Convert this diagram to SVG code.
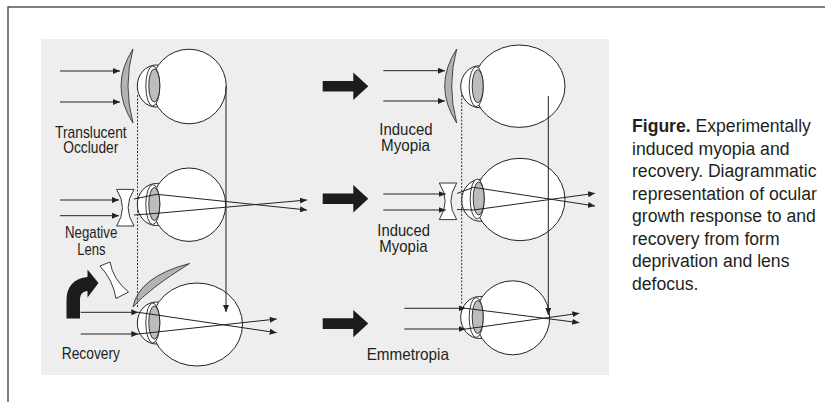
<svg xmlns="http://www.w3.org/2000/svg" xmlns:xlink="http://www.w3.org/1999/xlink" width="825" height="402" viewBox="0 0 825 402">
<style>
.frame{fill:none;stroke:#4a4a4a;stroke-width:1.4}
.panel{fill:#eeeeee}
.ray{stroke:#222;stroke-width:1;fill:none;marker-end:url(#ah)}
.dash{stroke:#333;stroke-width:1;stroke-dasharray:2 1.5;fill:none}
.globe{fill:#fff;stroke:#222;stroke-width:1}
.cornea{fill:#fff;stroke:#222;stroke-width:1}
.lensw{fill:#fff;stroke:#222;stroke-width:0.9}
.lensg{fill:#bdbdbd;stroke:#222;stroke-width:0.9}
.occ{fill:#b3b3b3;stroke:#333;stroke-width:0.9}
.neg{fill:#fff;stroke:#222;stroke-width:0.9}
.block{fill:#1c1c1c}
.lbl{font-family:"Liberation Sans",Arial,sans-serif;font-size:17px;fill:#231f20}
.cap{font-family:"Liberation Sans",Arial,sans-serif;font-size:19px;fill:#231f20}
</style>
<defs>
<marker id="ah" markerUnits="userSpaceOnUse" markerWidth="7" markerHeight="6" refX="7" refY="3" orient="auto">
<path d="M0,0 L7,3 L0,6 z" fill="#222"/>
</marker>
<!-- anterior eye parts, origin at the front of the cornea on the optical axis -->
<ellipse id="cornea" cx="19" cy="0" rx="19" ry="21" class="cornea"/>
<g id="lens">
<ellipse cx="15.5" cy="0" rx="7" ry="20" class="lensw"/>
<ellipse cx="17" cy="-0.5" rx="5.5" ry="16.5" class="lensg"/>
</g>
<!-- translucent occluder, origin at its centre -->
<path id="occluder" d="M0,-37 Q-24,0 0,37 Q-10,0 0,-37 Z" class="occ"/>
<!-- negative (concave) lens, origin at its centre -->
<path id="neglens" d="M-8.7,-18.3 L8.7,-18.3 Q-3,0 8.7,18.3 L-8.7,18.3 Q3,0 -8.7,-18.3 Z" class="neg"/>
<!-- block arrow, origin at its tip -->
<path id="block" d="M-45.6,-5.3 L-15,-5.3 L-15,-13.7 L0,0 L-15,13.7 L-15,5.3 L-45.6,5.3 Z" class="block"/>
</defs>

<rect class="frame" x="8" y="7" width="840" height="420"/>
<rect class="panel" x="41" y="39" width="568" height="336"/>

<!-- form deprivation: occluded eye -->
<g id="eye-occluder">
<use xlink:href="#occluder" x="133" y="86"/>
<use xlink:href="#cornea" x="137.3" y="86"/>
<circle class="globe" cx="189" cy="86.5" r="37.3"/>
<use xlink:href="#lens" x="137.3" y="86"/>
</g>

<!-- lens defocus: eye behind a negative lens -->
<g id="eye-neglens">
<use xlink:href="#neglens" x="125.3" y="207.7"/>
<use xlink:href="#cornea" x="137.3" y="204.5"/>
<circle class="globe" cx="189" cy="204.7" r="36.7"/>
<use xlink:href="#lens" x="137.3" y="204.5"/>
</g>

<!-- recovery: occluder and lens removed, elongated eye -->
<g id="eye-recovery">
<path class="block" d="M66.5,318.5 L66.5,300 C66.5,287 74,278 87.5,277 L87.5,269.5 L98.5,283 L87.5,297.5 L87.5,291 C82,291.5 80,295 80,300 L80,318.5 Z"/>
<path class="neg" d="M100,266 L110,262 Q113,279.5 128.5,292 L116,298.5 Q113,280 100,266 Z"/>
<path class="occ" d="M133,307 Q138.7,276.8 189.5,263.5 Q148.7,288.8 133,307 Z"/>
<use xlink:href="#cornea" x="137.3" y="323"/>
<ellipse class="globe" cx="197" cy="324.5" rx="45.5" ry="41.5"/>
<use xlink:href="#lens" x="137.3" y="323"/>
</g>

<!-- induced myopia after occlusion -->
<g id="eye-myopia-occluder">
<use xlink:href="#block" x="368.3" y="86.3"/>
<use xlink:href="#occluder" x="456.7" y="86"/>
<use xlink:href="#cornea" x="460.7" y="86.7"/>
<ellipse class="globe" cx="519.2" cy="86.2" rx="45.8" ry="41.2"/>
<use xlink:href="#lens" x="460.7" y="86.7"/>
</g>

<!-- induced myopia after negative lens -->
<g id="eye-myopia-lens">
<use xlink:href="#block" x="368.3" y="198.8"/>
<use xlink:href="#neglens" x="448" y="201.3"/>
<use xlink:href="#cornea" x="461.7" y="200.3"/>
<ellipse class="globe" cx="520" cy="199.5" rx="45" ry="41.2"/>
<use xlink:href="#lens" x="461.7" y="199"/>
</g>

<!-- emmetropia after recovery -->
<g id="eye-emmetropia">
<use xlink:href="#block" x="368.3" y="323.6"/>
<use xlink:href="#cornea" x="460.7" y="317.5"/>
<circle class="globe" cx="512.7" cy="317.8" r="37"/>
<use xlink:href="#lens" x="460.7" y="317.5"/>
</g>

<g id="connectors">
<!-- reference lines for cornea and retina position -->
<line class="dash" x1="137.5" y1="95" x2="137.5" y2="307"/>
<line class="dash" x1="461.7" y1="95" x2="461.7" y2="304"/>
<line class="ray" x1="226" y1="86" x2="226" y2="312"/>
<line class="ray" x1="548.3" y1="96" x2="548.3" y2="315"/>
<!-- incident light -->
<line class="ray" x1="60" y1="71" x2="120" y2="71"/>
<line class="ray" x1="60" y1="102" x2="120" y2="102"/>
<line class="ray" x1="383.3" y1="70.7" x2="445" y2="70.7"/>
<line class="ray" x1="383.3" y1="101" x2="445" y2="101"/>
<line class="ray" x1="60" y1="200" x2="119" y2="200"/>
<line class="ray" x1="60" y1="215.7" x2="119" y2="215.7"/>
<polyline class="ray" points="134,199 157,194.3 307,210"/>
<polyline class="ray" points="134,215 157,213.3 307,200"/>
<line class="ray" x1="383.3" y1="194" x2="445.7" y2="194"/>
<line class="ray" x1="383.3" y1="210" x2="445.7" y2="210"/>
<polyline class="ray" points="457,193.5 473.3,187.3 595,206"/>
<polyline class="ray" points="457,209.5 473.3,210 595,193.3"/>
<line class="ray" x1="80.7" y1="312.3" x2="138.3" y2="312.3"/>
<line class="ray" x1="80.7" y1="334" x2="138.3" y2="334"/>
<line class="ray" x1="138.3" y1="312.3" x2="276.7" y2="332.7"/>
<line class="ray" x1="138.3" y1="334" x2="276.7" y2="319"/>
<line class="ray" x1="404.3" y1="308.3" x2="465.7" y2="308.3"/>
<line class="ray" x1="404.3" y1="329" x2="465.7" y2="329"/>
<line class="ray" x1="465.7" y1="308.3" x2="579.3" y2="322.7"/>
<line class="ray" x1="465.7" y1="329" x2="579.3" y2="313.3"/>
</g>

<g id="labels" class="lbl">
<text x="55" y="138.3" textLength="71.7" lengthAdjust="spacingAndGlyphs">Translucent</text>
<text x="63.3" y="152.7" textLength="55" lengthAdjust="spacingAndGlyphs">Occluder</text>
<text x="65" y="238.3" textLength="52.3" lengthAdjust="spacingAndGlyphs">Negative</text>
<text x="77.3" y="255" textLength="28.3" lengthAdjust="spacingAndGlyphs">Lens</text>
<text x="61.7" y="359.3" textLength="58.3" lengthAdjust="spacingAndGlyphs">Recovery</text>
<text x="379.3" y="135" textLength="53.3" lengthAdjust="spacingAndGlyphs">Induced</text>
<text x="381" y="150.7" textLength="49" lengthAdjust="spacingAndGlyphs">Myopia</text>
<text x="377.3" y="236" textLength="52.7" lengthAdjust="spacingAndGlyphs">Induced</text>
<text x="379.3" y="251.7" textLength="48.3" lengthAdjust="spacingAndGlyphs">Myopia</text>
<text x="366.7" y="360" textLength="82.3" lengthAdjust="spacingAndGlyphs">Emmetropia</text>
</g>

<!-- caption set in a horizontally condensed sans -->
<g id="caption" class="cap" transform="translate(632,0) scale(0.927,1)">
<text x="0" y="132.5"><tspan font-weight="bold">Figure.</tspan> Experimentally</text>
<text x="0" y="155">induced myopia and</text>
<text x="0" y="177.5">recovery. Diagrammatic</text>
<text x="0" y="200">representation of ocular</text>
<text x="0" y="222.5">growth response to and</text>
<text x="0" y="245">recovery from form</text>
<text x="0" y="267.5">deprivation and lens</text>
<text x="0" y="290">defocus.</text>
</g>
</svg>
